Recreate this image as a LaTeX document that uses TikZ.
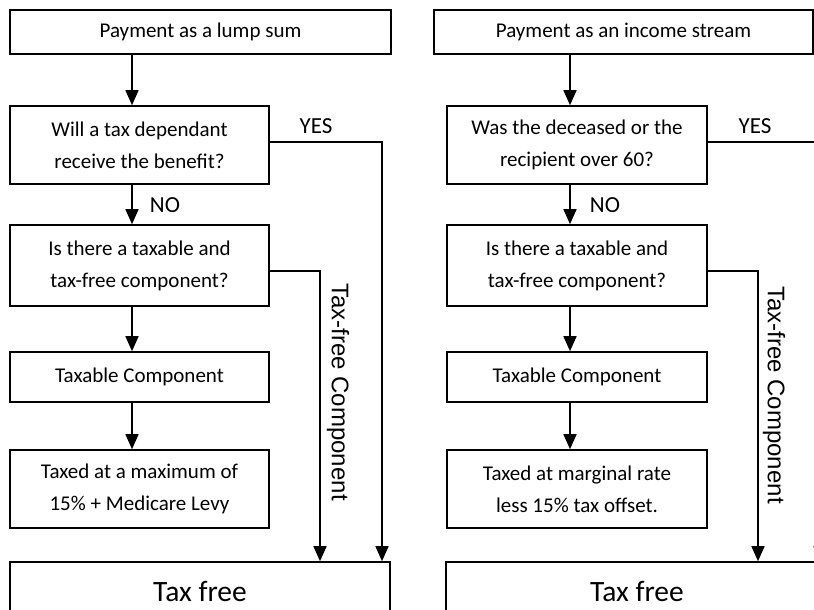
\documentclass[tikz,border=0pt]{standalone}
\usepackage{fontspec}
\setmainfont{Carlito}
\newfontfamily\arialfont{Liberation Sans}
\usetikzlibrary{arrows.meta}

\begin{document}
\begin{tikzpicture}[x=1pt,y=-1pt,
    box/.style={draw,line width=1.6pt,align=center,inner sep=0pt,font=\fontsize{21}{32}\selectfont},
    flow/.style={line width=1.6pt,-{Triangle[width=13pt,length=15pt]}},
    lbl/.style={font=\fontsize{23}{28}\selectfont},
    sidelbl/.style={font=\arialfont\fontsize{24}{28}\selectfont,rotate=-90}]
    \useasboundingbox (0,0) rectangle (814,610);
    \clip (0,0) rectangle (814,610);
    \coordinate (spineL) at (132,0);
    \coordinate (spineR) at (570,0);
    \coordinate (yesL) at (382,142);
    \coordinate (yesR) at (820,142);
    \coordinate (tfL) at (320,271);
    \coordinate (tfR) at (758,271);

    \node[box,minimum width=381pt,minimum height=44pt] (lump) at (200.5,32) {Payment as a lump sum};
    \node[box,minimum width=259pt,minimum height=78pt] (depL) at (139.5,145) {Will a tax dependant\\receive the benefit?};
    \node[box,minimum width=259pt,minimum height=81pt] (compL) at (139.5,265.5) {Is there a taxable and\\tax-free component?};
    \node[box,minimum width=259pt,minimum height=50pt] (taxableL) at (139.5,377) {Taxable Component};
    \node[box,minimum width=259pt,minimum height=78pt] (maxrate) at (139.5,489) {Taxed at a maximum of\\15\% + Medicare Levy};
    \node[box,minimum width=380pt,minimum height=58pt,font=\fontsize{29.5}{32}\selectfont] (freeL) at (200,591) {Tax free};

    \node[box,minimum width=379pt,minimum height=44pt] (income) at (623.5,32) {Payment as an income stream};
    \node[box,minimum width=260pt,minimum height=78pt] (depR) at (577,145) {Was the deceased or the\\recipient over 60?};
    \node[box,minimum width=260pt,minimum height=81pt] (compR) at (577,265.5) {Is there a taxable and\\tax-free component?};
    \node[box,minimum width=260pt,minimum height=50pt] (taxableR) at (577,377) {Taxable Component};
    \node[box,minimum width=260pt,minimum height=78pt] (marginal) at (577,489) {Taxed at marginal rate\\less 15\% tax offset.};
    \node[box,minimum width=382pt,minimum height=58pt,font=\fontsize{29.5}{32}\selectfont] (freeR) at (637,591) {Tax free};

    \draw[flow] (lump.south -| spineL) -- (depL.north -| spineL);
    \draw[flow] (depL.south -| spineL) -- (compL.north -| spineL);
    \draw[flow] (compL.south -| spineL) -- (taxableL.north -| spineL);
    \draw[flow] (taxableL.south -| spineL) -- (maxrate.north -| spineL);
    \draw[flow] (depL.east |- yesL) -| (freeL.north -| yesL);
    \draw[flow] (compL.east |- tfL) -| (freeL.north -| tfL);
    \node[lbl] (yesTextL) at (316,126) {YES};
    \node[lbl] (noTextL) at (165,205) {NO};
    \node[sidelbl] (tfTextL) at (338,392) {Tax-free Component};

    \draw[flow] (income.south -| spineR) -- (depR.north -| spineR);
    \draw[flow] (depR.south -| spineR) -- (compR.north -| spineR);
    \draw[flow] (compR.south -| spineR) -- (taxableR.north -| spineR);
    \draw[flow] (taxableR.south -| spineR) -- (marginal.north -| spineR);
    \draw[flow] (depR.east |- yesR) -| (freeR.north -| yesR);
    \draw[flow] (compR.east |- tfR) -| (freeR.north -| tfR);
    \node[lbl] (yesTextR) at (755,126) {YES};
    \node[lbl] (noTextR) at (605,205) {NO};
    \node[sidelbl] (tfTextR) at (774,395) {Tax-free Component};
\end{tikzpicture}
\end{document}
